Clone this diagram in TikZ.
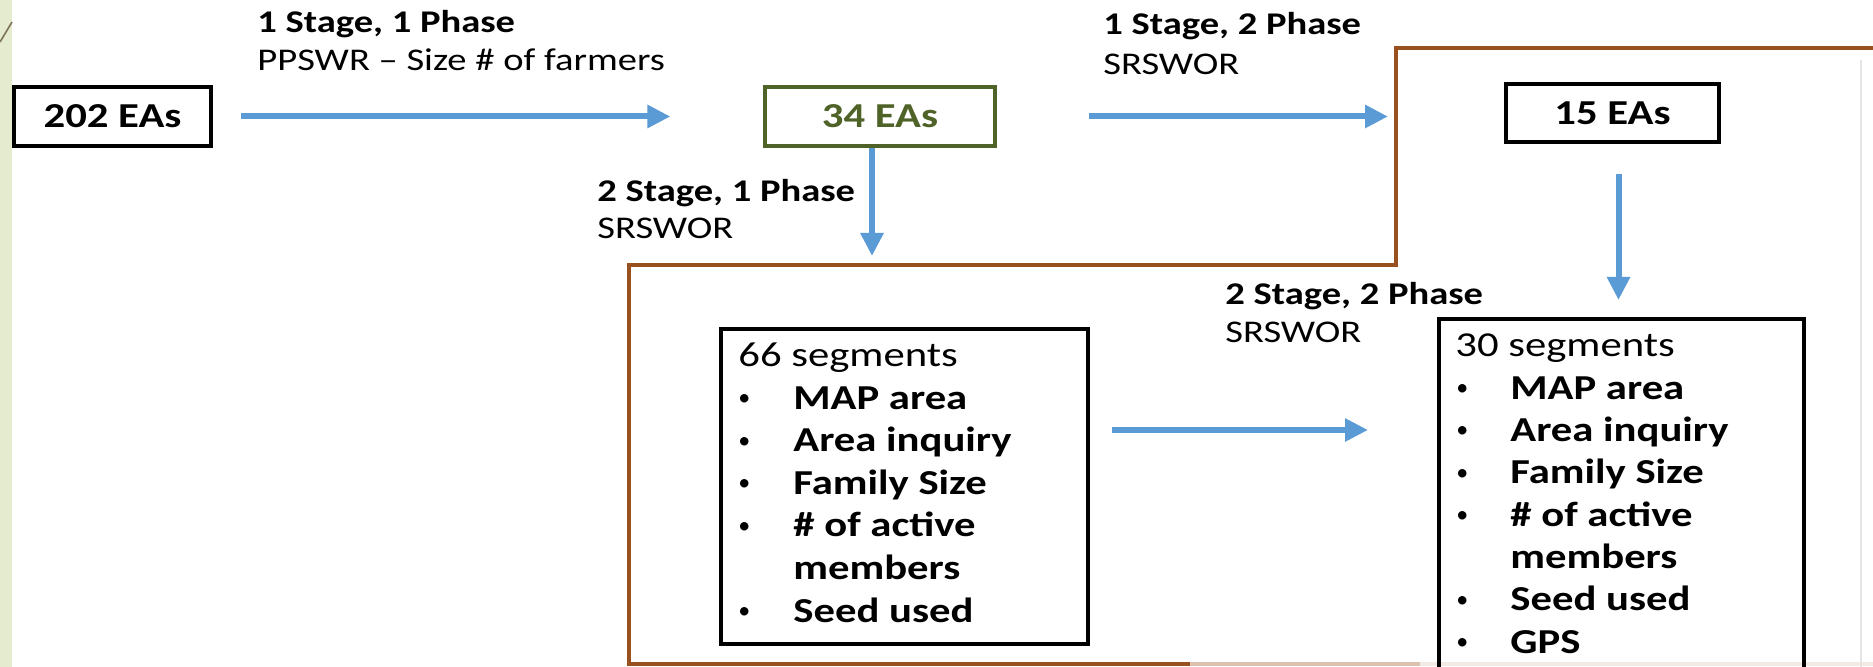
\documentclass[tikz,border=0pt]{standalone}
\usepackage{fontspec}
\setmainfont{Carlito}[FakeStretch=1.22]
\newfontfamily\bulletfont{Carlito}
\usetikzlibrary{arrows.meta}
\definecolor{arrowblue}{RGB}{91,155,213}
\definecolor{boxgreen}{RGB}{79,98,40}
\definecolor{framebrown}{RGB}{152,80,30}
\definecolor{stripgreen}{RGB}{228,235,207}
\definecolor{diagline}{RGB}{125,115,85}
\begin{document}
\begin{tikzpicture}[x=0.5pt,y=-0.5pt,
  eabox/.style={draw=black, line width=2pt, minimum width=#1, minimum height=29.5pt, inner sep=0pt,
    font=\fontsize{17.5}{21}\selectfont\bfseries},
  segbox/.style={draw=black, line width=1.8pt, inner sep=0pt, anchor=north west},
  lblbold/.style={anchor=base west, inner sep=0pt, font=\fontsize{15.8}{19}\selectfont\bfseries},
  lblreg/.style={anchor=base west, inner sep=0pt, font=\fontsize{15.8}{19}\selectfont},
  itemtxt/.style={anchor=base west, inner sep=0pt, font=\fontsize{17.5}{21}\selectfont\bfseries},
  bullettxt/.style={anchor=base west, inner sep=0pt, font=\bulletfont\fontsize{12}{14}\selectfont},
  titletxt/.style={anchor=base west, inner sep=0pt, font=\fontsize{17.5}{21}\selectfont},
  flow/.style={draw=arrowblue, line width=3pt, -{Triangle[length=11.5pt,width=11pt]}},
  frame/.style={draw=framebrown, line width=1.6pt, line join=miter}
]
\useasboundingbox (0,0) rectangle (1873,667);
\clip (0,0) rectangle (1873,667);
\fill[white] (0,0) rectangle (1873,667);
\fill[stripgreen] (0,0) rectangle (12,667);
\draw[diagline, line width=0.8pt] (0,42) -- (12,22);

% frame
\draw[frame] (1190,664) -- (629,664) -- (629,265) -- (1396,265) -- (1396,48) -- (1880,48);
\draw[framebrown!35, line width=1.6pt] (1190,664) -- (1420,664);
\draw[framebrown!12, line width=1.6pt] (1420,664) -- (1873,664);
\draw[black!10, line width=1pt] (1861,60) -- (1861,667);

% EA boxes
\node[eabox=98.5pt] (n202) at (112.5,116.5) {202 EAs};
\node[eabox=115pt, draw=boxgreen, text=boxgreen, line width=1.6pt] (n34) at (880,116.5) {34 EAs};
\node[eabox=106.5pt, minimum height=29pt] (n15) at (1612.5,113) {15 EAs};

% segment boxes
\node[segbox, minimum width=183.5pt, minimum height=157.5pt] (seg66) at (719,327) {};
\node[segbox, minimum width=182.5pt, minimum height=190pt] (seg30) at (1437,317) {};

\node[titletxt] (t66) at (738,367) {66 segments};
\foreach \txt/\b [count=\i] in {MAP area/1, Area inquiry/1, Family Size/1, \# of active/1, members/0, Seed used/1}{
  \node[itemtxt] (a\i) at (793,{367+\i*42.5}) {\txt};
  \ifnum\b=1 \node[bullettxt] (ab\i) at (738,{367+\i*42.5}) {\raisebox{1.8pt}{\textbullet}}; \fi
}
\node[titletxt] (t30) at (1455,357) {30 segments};
\foreach \txt/\b [count=\i] in {MAP area/1, Area inquiry/1, Family Size/1, \# of active/1, members/0, Seed used/1, GPS/1}{
  \node[itemtxt] (c\i) at (1510,{357+\i*42.3}) {\txt};
  \ifnum\b=1 \node[bullettxt] (cb\i) at (1456,{357+\i*42.3}) {\raisebox{1.8pt}{\textbullet}}; \fi
}

% labels
\node[lblbold] (l1a) at (257,33) {1 Stage, 1 Phase};
\node[lblreg]  (l1b) at (257,71) {PPSWR – Size \# of farmers};
\node[lblbold] (l2a) at (1103,35) {1 Stage, 2 Phase};
\node[lblreg]  (l2b) at (1103,75) {SRSWOR};
\node[lblbold] (l3a) at (597,202) {2 Stage, 1 Phase};
\node[lblreg]  (l3b) at (597,239) {SRSWOR};
\node[lblbold] (l4a) at (1225,305) {2 Stage, 2 Phase};
\node[lblreg]  (l4b) at (1225,343) {SRSWOR};

% arrows
\coordinate (arrowy) at (0,430);
\draw[flow, shorten <=14pt, shorten >=46.5pt] (n202.east) -- (n34.west);
\draw[flow, shorten <=46pt, shorten >=58pt] (n34.east) -- (n34.east -| n15.west);
\draw[flow, shorten >=35.5pt] ([xshift=-4pt]n34.south) -- ([xshift=-4pt]n34.south |- seg66.north);
\draw[flow, shorten <=15pt, shorten >=8.5pt] ([xshift=3pt]n15.south) -- ([xshift=3pt]n15.south |- seg30.north);
\draw[flow, shorten <=11pt, shorten >=34.5pt] (seg66.east |- arrowy) -- (seg30.west |- arrowy);
\end{tikzpicture}
\end{document}
